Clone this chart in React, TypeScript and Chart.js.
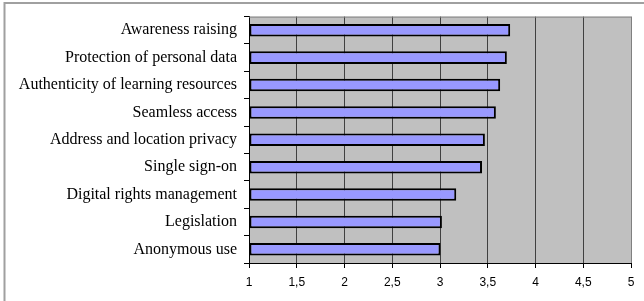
import React, { useEffect, useRef } from "react";
import { Chart, registerables } from "chart.js";

Chart.register(...registerables);

const categories = [
  "Awareness raising",
  "Protection of personal data",
  "Authenticity of learning resources",
  "Seamless access",
  "Address and location privacy",
  "Single sign-on",
  "Digital rights management",
  "Legislation",
  "Anonymous use",
];
const values = [3.735, 3.7, 3.63, 3.585, 3.47, 3.44, 3.17, 3.02, 3.005];
const xMin = 1;
const xMax = 5;
const xStep = 0.5;

const framePlugin = {
  id: "frame",
  beforeDraw(chart: any) {
    const { ctx, chartArea } = chart;
    ctx.save();
    ctx.fillStyle = "#c0c0c0";
    ctx.fillRect(chartArea.left, chartArea.top, chartArea.right - chartArea.left, chartArea.bottom - chartArea.top);
    ctx.strokeStyle = "#a0a0a0";
    ctx.lineWidth = 2;
    ctx.beginPath();
    ctx.moveTo(4.5, 301);
    ctx.lineTo(4.5, 3);
    ctx.lineTo(644, 3);
    ctx.stroke();
    ctx.restore();
  },
  afterDatasetsDraw(chart: any) {
    const { ctx, chartArea } = chart;
    ctx.save();
    ctx.strokeStyle = "#808080";
    ctx.lineWidth = 1;
    ctx.beginPath();
    ctx.moveTo(chartArea.left, chartArea.top + 0.5);
    ctx.lineTo(chartArea.right + 0.5, chartArea.top + 0.5);
    ctx.lineTo(chartArea.right + 0.5, chartArea.bottom);
    ctx.stroke();
    ctx.restore();
  },
};

export default function App() {
  const ref = useRef<HTMLCanvasElement | null>(null);
  useEffect(() => {
    if (!ref.current) return;
    const chart = new Chart(ref.current, {
      type: "bar",
      data: {
        labels: categories,
        datasets: [
          {
            data: values,
            base: xMin,
            backgroundColor: "#9999ff",
            borderColor: "#000000",
            borderWidth: 2,
            borderSkipped: false,
            categoryPercentage: 1,
            barPercentage: 0.46,
          } as any,
        ],
      },
      options: {
        indexAxis: "y",
        animation: false,
        responsive: false,
        maintainAspectRatio: false,
        layout: { padding: { left: 0, right: 13, top: 12, bottom: 0 } },
        plugins: { legend: { display: false }, tooltip: { enabled: false } },
        scales: {
          x: {
            min: xMin,
            max: xMax,
            afterFit: (s: any) => {
              s.height = 38;
            },
            ticks: {
              stepSize: xStep,
              color: "#000",
              font: { family: "Liberation Sans", size: 12 },
              padding: 7,
              callback: (v: any) => String(v).replace(".", ","),
            },
            grid: {
              color: (c: any) => (c.tick && c.tick.value === xMax ? "#808080" : "#404040"),
              tickColor: "#000",
              tickLength: 5,
              drawOnChartArea: true,
            },
            border: { display: true, color: "#000", width: 1 },
          },
          y: {
            afterFit: (s: any) => {
              s.width = 249;
            },
            ticks: {
              color: "#000",
              font: { family: "Liberation Serif", size: 16 },
              padding: 7,
            },
            grid: {
              offset: true,
              drawOnChartArea: false,
              tickColor: "#000",
              tickLength: 5,
            },
            border: { display: true, color: "#000", width: 1 },
          },
        },
      },
      plugins: [framePlugin],
    });
    return () => chart.destroy();
  }, []);
  return (
    <div style={{ position: "absolute", left: 0, top: 0, width: 644, height: 301, background: "#fff" }}>
      <canvas ref={ref} width={644} height={301} style={{ width: 644, height: 301 }} />
    </div>
  );
}
